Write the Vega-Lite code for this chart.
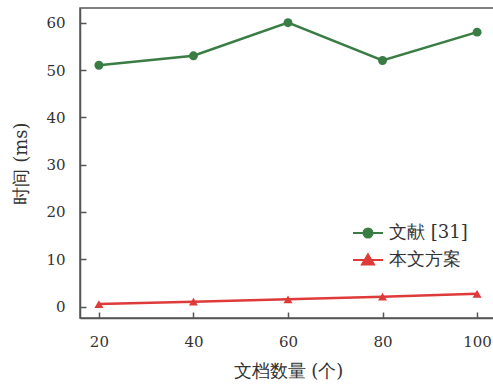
{
  "$schema": "https://vega.github.io/schema/vega-lite/v6.json",
  "width": 416,
  "height": 310,
  "autosize": "none",
  "padding": {"left": 80, "top": 8, "right": 0, "bottom": 67},
  "background": "white",
  "config": {
    "font": "DejaVu Serif",
    "view": {"stroke": "#555555", "strokeWidth": 1.5},
    "axis": {
      "grid": false,
      "domainColor": "#555555",
      "domainWidth": 1.5,
      "tickColor": "#555555",
      "tickWidth": 1.5,
      "tickSize": -6,
      "labelColor": "#333333",
      "titleColor": "#333333",
      "labelFontSize": 15,
      "titleFontSize": 18,
      "titleFontWeight": "normal",
      "labelFont": "DejaVu Serif",
      "titleFont": "DejaVu Serif"
    }
  },
  "data": {
    "values": [
      {"n": 20, "t": 51, "series": "文献 [31]"},
      {"n": 40, "t": 53, "series": "文献 [31]"},
      {"n": 60, "t": 60, "series": "文献 [31]"},
      {"n": 80, "t": 52, "series": "文献 [31]"},
      {"n": 100, "t": 58, "series": "文献 [31]"},
      {"n": 20, "t": 0.55, "series": "本文方案"},
      {"n": 40, "t": 1.05, "series": "本文方案"},
      {"n": 60, "t": 1.55, "series": "本文方案"},
      {"n": 80, "t": 2.1, "series": "本文方案"},
      {"n": 100, "t": 2.7, "series": "本文方案"}
    ]
  },
  "encoding": {
    "x": {
      "field": "n",
      "type": "quantitative",
      "scale": {"domain": [16, 104], "nice": false, "zero": false},
      "axis": {"values": [20, 40, 60, 80, 100], "title": "文档数量 (个)", "labelPadding": 22, "titlePadding": 13}
    },
    "y": {
      "field": "t",
      "type": "quantitative",
      "scale": {"domain": [-2.4, 63.1], "nice": false, "zero": false},
      "axis": {"values": [0, 10, 20, 30, 40, 50, 60], "title": "时间 (ms)", "labelPadding": 21, "titlePadding": 15}
    },
    "color": {
      "field": "series",
      "type": "nominal",
      "sort": null,
      "scale": {"domain": ["文献 [31]", "本文方案"], "range": ["#3a7d44", "#df3a3a"]},
      "legend": {
        "orient": "none",
        "legendX": 279,
        "legendY": 216,
        "title": null,
        "padding": 0,
        "labelFont": "DejaVu Serif",
        "labelFontSize": 18,
        "labelColor": "#333333",
        "symbolSize": 100,
        "labelOffset": 12,
        "rowPadding": 8,
        "encode": {
          "symbols": {
            "update": {
              "shape": {"signal": "datum.value === '文献 [31]' ? 'M-3,0L3,0M-0.9,0A0.9,0.9,0,1,0,0.9,0A0.9,0.9,0,1,0,-0.9,0Z' : 'M-3,0L3,0M0,-1.1L1.2,0.9L-1.2,0.9Z'"},
              "fill": {"scale": "color", "field": "value"},
              "stroke": {"scale": "color", "field": "value"},
              "strokeWidth": {"value": 2},
              "opacity": {"value": 1}
            }
          }
        }
      }
    }
  },
  "layer": [
    {"mark": {"type": "line", "strokeWidth": 2.5}},
    {
      "transform": [{"filter": "datum.series === '文献 [31]'"}],
      "mark": {"type": "point", "shape": "circle", "filled": true, "opacity": 1, "size": 80}
    },
    {
      "transform": [{"filter": "datum.series === '本文方案'"}],
      "mark": {"type": "point", "shape": "triangle-up", "filled": true, "opacity": 1, "size": 80}
    }
  ]
}
